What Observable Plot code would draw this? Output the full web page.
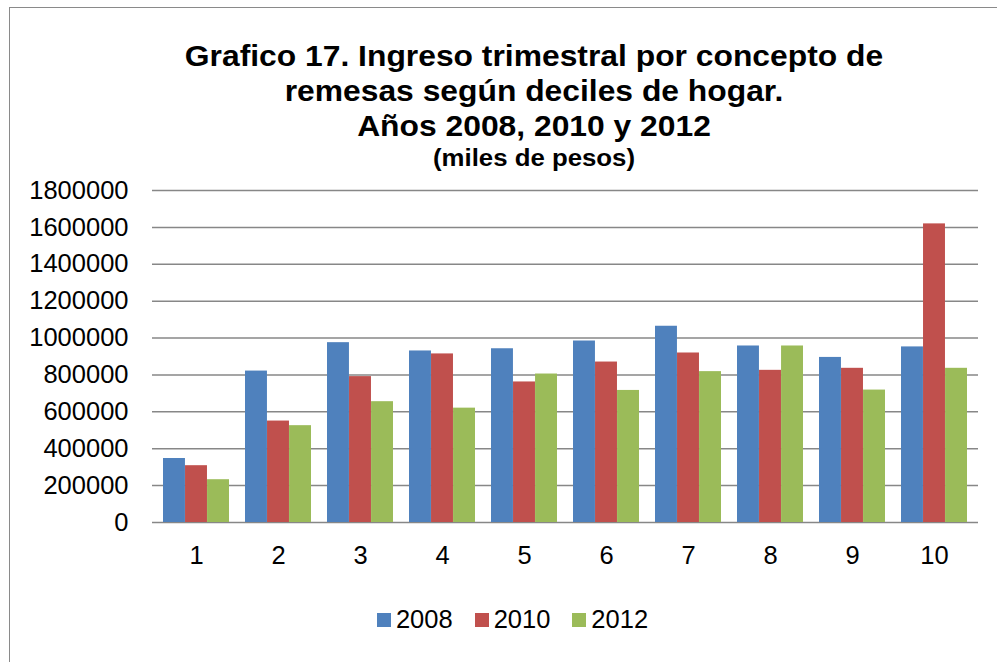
<!DOCTYPE html>
<html>
<head>
<meta charset="utf-8">
<script src="https://cdn.jsdelivr.net/npm/d3@7"></script>
<script src="https://cdn.jsdelivr.net/npm/@observablehq/plot@0.6"></script>
<style>
  html, body { margin: 0; padding: 0; background: #fff; overflow: hidden; }
  #root { position: relative; width: 997px; height: 662px; overflow: hidden; font-family: "Liberation Sans", Arial, sans-serif; color: #000; }
  #frame { position: absolute; left: 9px; top: 7px; width: 1200px; height: 1000px; border: 1.5px solid #8a8a8a; box-sizing: border-box; }
  .t { position: absolute; left: 0; width: 1068px; text-align: center; font-weight: bold; line-height: 1; white-space: nowrap; transform: scaleX(1.097); transform-origin: 534px 0; }
  #chart { position: absolute; left: 0; top: 160px; }
  #legend { position: absolute; left: 0; width: 1025px; top: 607px; display: flex; justify-content: center; align-items: center; font-size: 25.5px; line-height: 1; }
  .item { display: flex; align-items: center; margin: 0 11px; }
  .sw { width: 14px; height: 14px; margin-right: 5px; }
</style>
</head>
<body>
<div id="root">
  <div id="frame"></div>
  <div id="titles"></div>
  <div id="chart"></div>
  <div id="legend"></div>
</div>
<script>
const titleLines = [
  "Grafico 17. Ingreso trimestral por concepto de",
  "remesas según deciles de hogar.",
  "Años 2008, 2010 y 2012"
];
const subtitle = "(miles de pesos)";
const deciles = ["1","2","3","4","5","6","7","8","9","10"];
const years = ["2008","2010","2012"];
const colors = ["#4F81BD","#C0504D","#9BBB59"];
const v2008 = [347000, 821000, 975000, 930000, 942000, 984000, 1064000, 957000, 895000, 952000];
const v2010 = [308000, 550000, 791000, 914000, 762000, 870000, 919000, 825000, 836000, 1619000];
const v2012 = [232000, 525000, 655000, 620000, 805000, 716000, 818000, 957000, 718000, 836000];
const yTicks = [0,200000,400000,600000,800000,1000000,1200000,1400000,1600000,1800000];

// titles
const titles = document.getElementById("titles");
const tops = [42, 77, 112];
titleLines.forEach((s, i) => {
  const d = document.createElement("div");
  d.className = "t";
  d.style.top = tops[i] + "px";
  d.style.fontSize = "29px";
  d.textContent = s;
  titles.appendChild(d);
});
const sd = document.createElement("div");
sd.className = "t";
sd.style.top = "147px";
sd.style.fontSize = "23.5px";
sd.textContent = subtitle;
titles.appendChild(sd);

// layout of the svg
const W = 997, H = 412, mL = 152, mR = 19, mT = 30, mB = 50;
const xOpts = {type: "band", domain: deciles, range: [mL, W - mR], paddingInner: 0.2, paddingOuter: 0.1};
const bw = Plot.scale({x: xOpts}).bandwidth;

const series = [v2008, v2010, v2012];
const tables = series.map((vals, j) => deciles.map((dec, i) => ({decile: dec, year: years[j], value: vals[i]})));

const chart = Plot.plot({
  width: W,
  height: H,
  marginLeft: mL,
  marginRight: mR,
  marginTop: mT,
  marginBottom: mB,
  style: {fontFamily: "Liberation Sans, Arial, sans-serif", fontSize: "25.5px", color: "#000", background: "transparent", overflow: "visible"},
  x: {domain: deciles, paddingInner: 0.2, paddingOuter: 0.1, label: null, tickSize: 0, tickPadding: 23},
  y: {domain: [0, 1800000], ticks: yTicks, tickFormat: d => String(d), label: null, tickSize: 0, tickPadding: 24},
  color: {domain: years, range: colors},
  marks: [
    Plot.ruleY(yTicks, {y: d => d, stroke: "#878787", strokeWidth: 1.5}),
    ...tables.map((tb, j) => Plot.barY(tb, {
      x: "decile", y: "value", fill: "year",
      insetLeft: j * bw / 3, insetRight: (2 - j) * bw / 3
    }))
  ]
});
document.getElementById("chart").appendChild(chart);

// legend
const legend = document.getElementById("legend");
years.forEach((yr, j) => {
  const it = document.createElement("div");
  it.className = "item";
  const sw = document.createElement("div");
  sw.className = "sw";
  sw.style.background = colors[j];
  const lb = document.createElement("span");
  lb.textContent = yr;
  it.appendChild(sw);
  it.appendChild(lb);
  legend.appendChild(it);
});
</script>
</body>
</html>
